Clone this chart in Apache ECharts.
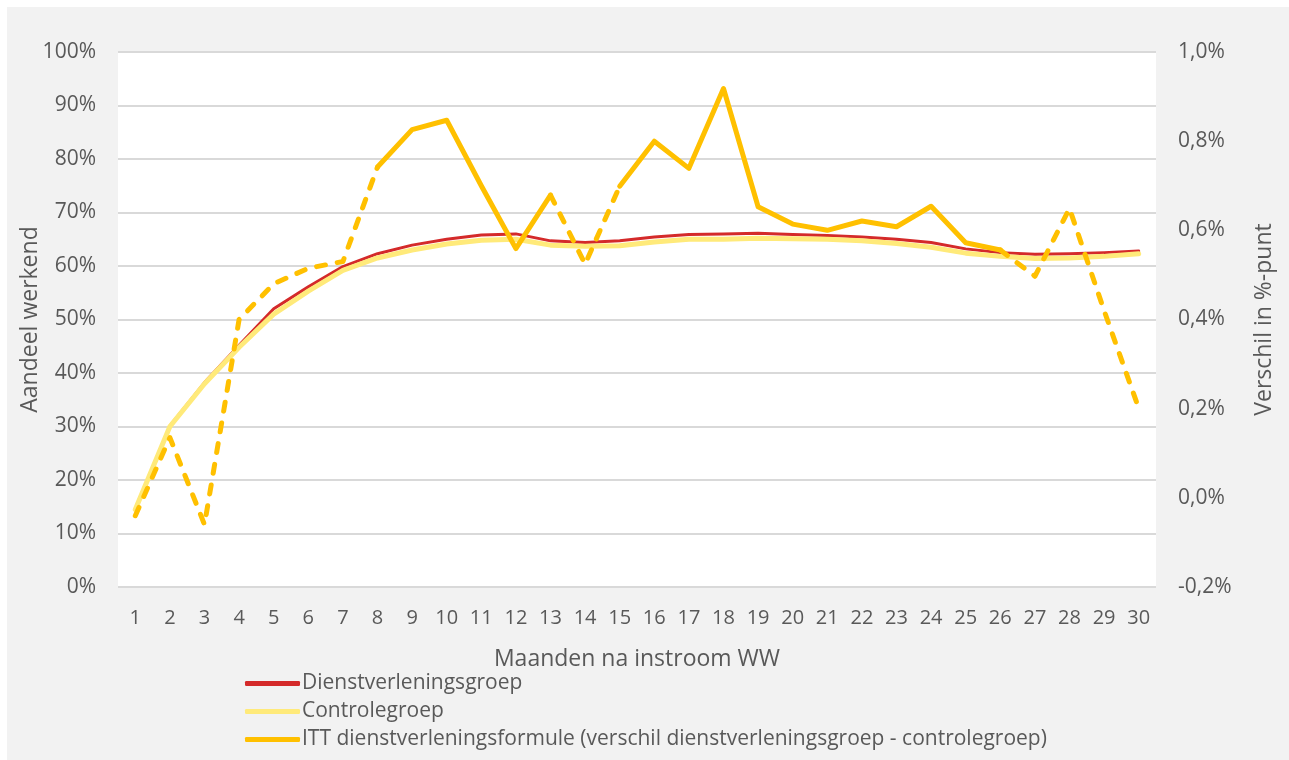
<!DOCTYPE html>
<html>
<head>
<meta charset="utf-8">
<script src="https://cdn.jsdelivr.net/npm/echarts@6/dist/echarts.min.js"></script>
<style>
  html, body { margin: 0; padding: 0; background: #ffffff; }
  #chart { width: 1289px; height: 760px; }
</style>
</head>
<body>
<div id="chart"></div>
<script>
// ---- data ----
const months = ['1','2','3','4','5','6','7','8','9','10','11','12','13','14','15','16','17','18','19','20','21','22','23','24','25','26','27','28','29','30'];
const dienstverleningsgroep = [14.6, 30.1, 38.2, 45.2, 52.0, 56.1, 59.9, 62.3, 63.9, 65.0, 65.8, 66.0, 64.7, 64.4, 64.7, 65.4, 65.9, 66.0, 66.1, 65.9, 65.7, 65.4, 65.0, 64.4, 63.2, 62.5, 62.2, 62.3, 62.5, 62.8];
const controlegroep = [14.5, 30.0, 38.0, 44.8, 51.0, 55.3, 59.2, 61.5, 63.0, 64.1, 64.8, 65.0, 63.9, 63.7, 63.8, 64.5, 65.0, 65.0, 65.2, 65.1, 65.0, 64.7, 64.2, 63.5, 62.4, 61.8, 61.4, 61.5, 61.8, 62.3];
const itt = [-0.04, 0.135, -0.06, 0.40, 0.48, 0.515, 0.53, 0.742, 0.826, 0.847, 0.70, 0.559, 0.679, 0.524, 0.699, 0.80, 0.739, 0.918, 0.653, 0.614, 0.60, 0.621, 0.608, 0.654, 0.572, 0.556, 0.497, 0.649, 0.42, 0.201];
// months where the ITT estimate is drawn solid (significant)
const significant = [false,false,false,false,false,false,false,true,true,true,true,true,true,false,true,true,true,true,true,true,true,true,true,true,true,true,false,false,false,false];

const nameD = 'Dienstverleningsgroep';
const nameC = 'Controlegroep';
const nameI = 'ITT dienstverleningsformule (verschil dienstverleningsgroep - controlegroep)';

const ittSolid = itt.map((v, i) => significant[i] ? v : null);
const ittDashed = itt.map((v, i) => {
  const prevNS = i > 0 && !significant[i - 1];
  const nextNS = i < itt.length - 1 && !significant[i + 1];
  return (!significant[i] || prevNS || nextNS) ? v : null;
});

const FONT = 'Open Sans';
const TXT = '#595959';

const chart = echarts.init(document.getElementById('chart'), null, { renderer: 'canvas' });
chart.setOption({
  backgroundColor: '#ffffff',
  animation: false,
  graphic: [{
    type: 'rect', left: 7, top: 7, z: -10,
    shape: { width: 1282, height: 753 },
    style: { fill: '#f2f2f2' }
  }],
  grid: {
    left: 118, right: 133, top: 52, bottom: 173,
    show: true, backgroundColor: '#ffffff', borderWidth: 0
  },
  legend: {
    orient: 'vertical',
    left: 245, top: 673, padding: 0,
    itemWidth: 55, itemHeight: 5, itemGap: 7,
    icon: 'roundRect',
    data: [nameD, nameC, nameI],
    textStyle: { fontFamily: FONT, fontSize: 21, color: TXT, lineHeight: 21, padding: [0, 0, 0, -3] },
    selectedMode: false
  },
  xAxis: {
    type: 'category',
    data: months,
    boundaryGap: true,
    name: 'Maanden na instroom WW',
    nameLocation: 'middle',
    nameGap: 61,
    nameMoveOverlap: false,
    nameTextStyle: { fontFamily: FONT, fontSize: 23, color: TXT },
    axisLine: { show: false },
    axisTick: { show: false },
    axisLabel: { fontFamily: FONT, fontSize: 20, color: TXT, margin: 21, interval: 0 }
  },
  yAxis: [{
    type: 'value',
    min: 0, max: 100, interval: 10,
    name: 'Aandeel werkend',
    nameLocation: 'middle',
    nameRotate: 90,
    nameGap: 76,
    nameMoveOverlap: false,
    nameTextStyle: { fontFamily: FONT, fontSize: 23, color: TXT },
    axisLine: { show: false },
    axisTick: { show: false },
    axisLabel: { fontFamily: FONT, fontSize: 21, color: TXT, margin: 22, formatter: v => v + '%' },
    splitLine: { show: true, lineStyle: { color: '#d9d9d9', width: 2 } }
  }, {
    type: 'value',
    min: -0.2, max: 1.0, interval: 0.2,
    position: 'right',
    name: 'Verschil in %-punt',
    nameLocation: 'middle',
    nameRotate: 90,
    nameGap: 97,
    nameMoveOverlap: false,
    nameTextStyle: { fontFamily: FONT, fontSize: 23, color: TXT },
    axisLine: { show: false },
    axisTick: { show: false },
    axisLabel: { fontFamily: FONT, fontSize: 21, color: TXT, margin: 22,
      formatter: v => v.toFixed(1).replace('.', ',') + '%' },
    splitLine: { show: false }
  }],
  series: [{
    name: nameD, type: 'line', yAxisIndex: 0, data: dienstverleningsgroep,
    symbol: 'none', z: 2,
    lineStyle: { color: '#d42a2a', width: 3, cap: 'round', join: 'round' },
    itemStyle: { color: '#d42a2a' }
  }, {
    name: nameC, type: 'line', yAxisIndex: 0, data: controlegroep,
    symbol: 'none', z: 3,
    lineStyle: { color: '#ffea7a', width: 5, cap: 'round', join: 'round' },
    itemStyle: { color: '#ffea7a' }
  }, {
    name: nameI, type: 'line', yAxisIndex: 1, data: ittSolid,
    symbol: 'none', z: 4, connectNulls: false,
    lineStyle: { color: '#ffc000', width: 5, cap: 'round', join: 'round' },
    itemStyle: { color: '#ffc000' }
  }, {
    name: nameI + ' (n.s.)', type: 'line', yAxisIndex: 1, data: ittDashed,
    symbol: 'none', z: 4, connectNulls: false,
    lineStyle: { color: '#ffc000', width: 5, cap: 'round', join: 'round', type: [9, 12] },
    itemStyle: { color: '#ffc000' }
  }]
});
</script>
</body>
</html>
